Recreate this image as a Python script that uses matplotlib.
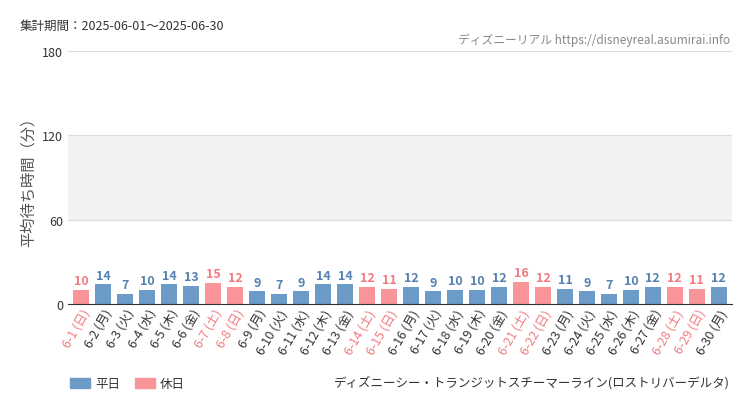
import matplotlib
matplotlib.use("Agg")
import matplotlib.pyplot as plt

plt.rcParams["font.family"] = ["Noto Sans CJK JP"]

days = list(range(1, 31))
weekdays = ["日","月","火","水","木","金","土"] * 5
weekdays = weekdays[:30]
values = [10,14,7,10,14,13,15,12,9,7,9,14,14,12,11,12,9,10,10,12,16,12,11,9,7,10,12,12,11,12]
holiday = [1,0,0,0,0,0,1,1,0,0,0,0,0,1,1,0,0,0,0,0,1,1,0,0,0,0,0,1,1,0]
labels = [f"6-{d} ({w})" for d, w in zip(days, weekdays)]

blue = "#6c9bc8"; pink = "#f99598"
blue_t = "#5580b0"; pink_t = "#f07b80"

fig = plt.figure(figsize=(7.5, 4.1), dpi=100)
ax = fig.add_axes([68/750, 1-305/410, 664/750, 253/410])
ax.axhspan(60, 120, color="#f2f2f2", zorder=0)
for y in (60, 120, 180):
    ax.axhline(y, color="#dddddd", lw=0.8, zorder=0)
x = list(range(30))
cols = [pink if h else blue for h in holiday]
ax.bar(x, values, width=0.75, color=cols, zorder=2)
for xi, v, h in zip(x, values, holiday):
    ax.text(xi, v + 2, str(v), ha="center", va="bottom", fontsize=9,
            color=pink_t if h else blue_t, fontweight="bold", fontfamily="Roboto Condensed" if False else "DejaVu Sans Condensed" if False else None)
ax.set_xlim(-0.6, 29.6)
ax.set_ylim(0, 180)
ax.set_yticks([0, 60, 120, 180])
ax.tick_params(axis="y", length=0, labelsize=9, colors="#333333")
ax.tick_params(axis="x", length=0, pad=2)
ax.set_xticks(x)
ax.set_xticklabels(labels, rotation=60, ha="right", rotation_mode="anchor", fontsize=9)
for t, h in zip(ax.get_xticklabels(), holiday):
    t.set_color(pink_t if h else "#333333")
for s in ["top", "right", "left"]:
    ax.spines[s].set_visible(False)
ax.spines["bottom"].set_color("#333333")
ax.set_ylabel("平均待ち時間（分）", fontsize=11, color="#555555")

fig.text(20/750, 1-26/410, "集計期間：2025-06-01～2025-06-30", fontsize=9, color="#333333", va="center")
fig.text(730/750, 1-40/410, "ディズニーリアル https://disneyreal.asumirai.info", fontsize=8.5, color="#888888", ha="right", va="center")
fig.text(730/750, 1-383/410, "ディズニーシー・トランジットスチーマーライン(ロストリバーデルタ)", fontsize=9, color="#333333", ha="right", va="center")
fig.patches.append(plt.Rectangle((70/750, 1-389/410), 20/750, 10/410, color=blue, transform=fig.transFigure, figure=fig))
fig.text(95/750, 1-385/410, "平日", fontsize=9, color="#333333", va="center")
fig.patches.append(plt.Rectangle((135/750, 1-389/410), 20/750, 10/410, color=pink, transform=fig.transFigure, figure=fig))
fig.text(160/750, 1-385/410, "休日", fontsize=9, color="#333333", va="center")

fig.savefig("out.png", dpi=100)
